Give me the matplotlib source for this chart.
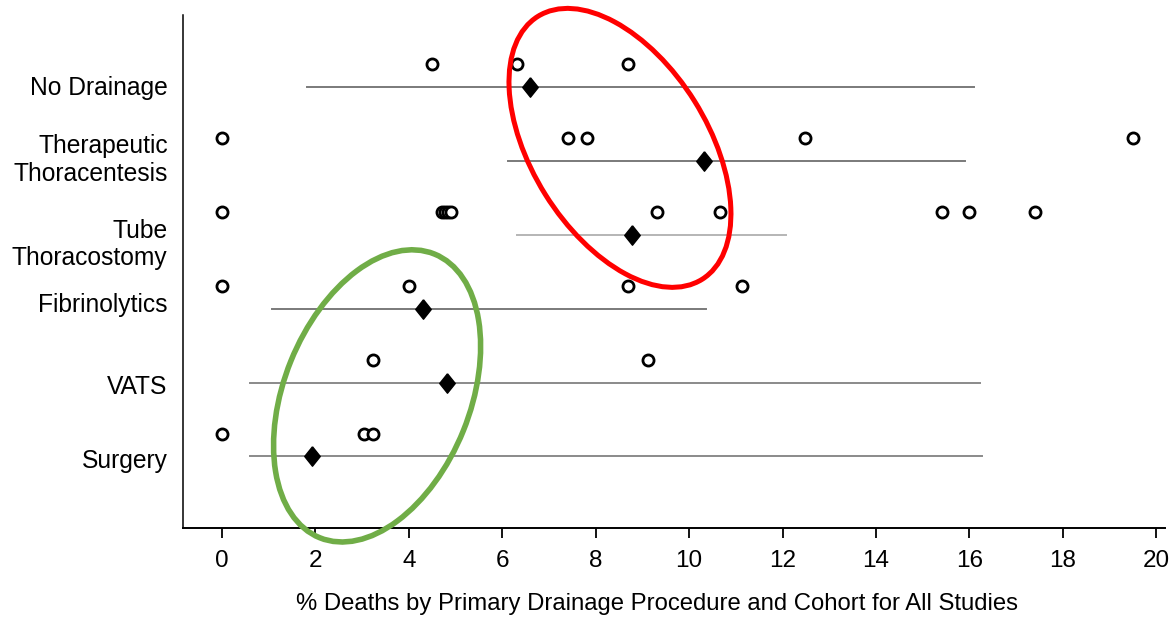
import matplotlib
matplotlib.use('Agg')
import matplotlib.pyplot as plt
from matplotlib.patches import Ellipse
from matplotlib.transforms import ScaledTranslation

# procedures, top to bottom
procedures = ['No Drainage', 'Therapeutic\nThoracentesis', 'Tube\nThoracostomy',
              'Fibrinolytics', 'VATS', 'Surgery']
rows = [6, 5, 4, 3, 2, 1]
label_rows = [6.02, 5.07, 3.93, 3.08, 1.98, 0.97]

# % deaths per cohort (open circles)
cohort_deaths = [
    [4.5, 6.31, 8.69],
    [0, 7.41, 7.81, 12.48, 19.51],
    [0, 4.7, 4.77, 4.84, 4.91, 9.32, 10.66, 15.41, 16.0, 17.41],
    [0, 4.0, 8.69, 11.13],
    [3.23, 9.13],
    [0, 3.03, 3.24],
]
# pooled estimate (diamonds) and interval
pooled = [6.6, 10.31, 8.78, 4.31, 4.81, 1.92]
ci_low = [1.82, 6.13, 6.31, 1.06, 0.6, 0.6]
ci_high = [16.1, 15.9, 12.07, 10.37, 16.22, 16.28]
ci_colors = ['#7a7a7a', '#7a7a7a', '#b5b5b5', '#7a7a7a', '#8a8a8a', '#8a8a8a']

xticks = list(range(0, 21, 2))

fig = plt.figure(figsize=(11.71, 6.17), dpi=100)
ax = fig.add_axes([0.1563, 0.1442, 0.8386, 0.8315])

circle_offset = 0.31
diamond = [(0, 1), (0.8, 0), (0, -1), (-0.8, 0), (0, 1)]
for i in range(len(procedures)):
    y = rows[i]
    ax.plot([ci_low[i], ci_high[i]], [y, y], color=ci_colors[i], lw=1.4, zorder=1)
    ax.plot(cohort_deaths[i], [y + circle_offset] * len(cohort_deaths[i]), 'o',
            ms=8, mfc='white', mec='black', mew=2.0, zorder=3)
    ax.plot(pooled[i], y, marker=diamond, ms=14, color='black', zorder=4)

ax.set_xlim(-0.835, 20.19)
ax.set_ylim(0.03, 6.98)

for s in ['top', 'right']:
    ax.spines[s].set_visible(False)
ax.spines['left'].set_linewidth(1.1)
ax.spines['bottom'].set_linewidth(1.4)

ax.set_xticks(xticks)
ax.set_xticklabels([str(t) for t in xticks], family='Liberation Sans', fontsize=17.5)
ax.tick_params(axis='x', direction='out', length=7, width=1.3, pad=9)
ax.set_yticks(label_rows)
ax.set_yticklabels(procedures, family='Liberation Sans', fontsize=17.7)
ax.tick_params(axis='y', length=0, pad=11)
ax.set_xlabel('% Deaths by Primary Drainage Procedure and Cohort for All Studies',
              family='Liberation Sans', fontsize=17.2)
ax.xaxis.set_label_coords(0.483, -0.127)

# highlight ellipses (center in data units, size in inches)
red = Ellipse((0, 0), 3.1, 1.76, angle=122, fill=False, ec='#ff0000', lw=3.6,
              transform=fig.dpi_scale_trans + ScaledTranslation(8.52, 5.18, ax.transData),
              clip_on=False, zorder=5)
green = Ellipse((0, 0), 3.06, 1.86, angle=68, fill=False, ec='#70ad47', lw=4.0,
                transform=fig.dpi_scale_trans + ScaledTranslation(3.32, 1.82, ax.transData),
                clip_on=False, zorder=5)
ax.add_patch(red)
ax.add_patch(green)

fig.savefig('out.png', dpi=100)
